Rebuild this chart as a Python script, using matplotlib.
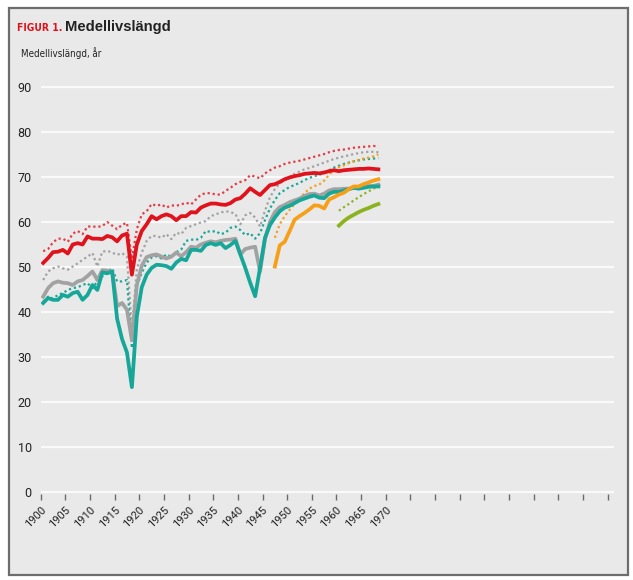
import matplotlib
matplotlib.use('Agg')
import matplotlib.pyplot as plt
from matplotlib import font_manager
from matplotlib.font_manager import FontProperties
from matplotlib.patches import Rectangle
import numpy as np

# --- data ---
years = np.arange(1900, 1969)

red = [50.9, 52.0, 53.3, 53.4, 53.8, 53.0, 55.0, 55.3, 55.0, 56.8,
       56.3, 56.3, 56.2, 56.9, 56.6, 55.7, 57.0, 57.4, 48.3, 55.0,
       58.0, 59.5, 61.3, 60.6, 61.3, 61.7, 61.3, 60.4, 61.3, 61.3,
       62.2, 62.1, 63.2, 63.7, 64.1, 64.1, 63.9, 63.8, 64.2, 65.0,
       65.3, 66.3, 67.5, 66.7, 66.0, 67.1, 68.2, 68.4, 68.9, 69.5,
       69.9, 70.2, 70.4, 70.7, 70.8, 70.9, 70.8, 71.0, 71.3, 71.5,
       71.3, 71.5, 71.6, 71.7, 71.8, 71.8, 71.9, 71.8, 71.7]
red_dot = [53.5, 54.0, 55.5, 56.3, 56.3, 55.6, 57.4, 58.0, 57.3, 59.0,
           59.0, 58.9, 59.1, 60.0, 59.2, 58.4, 59.4, 59.8, 51.8, 58.4,
           61.7, 62.4, 64.0, 63.6, 63.9, 63.2, 63.7, 63.6, 63.9, 64.3,
           63.9, 65.0, 66.1, 66.4, 66.4, 66.1, 66.1, 66.9, 67.6, 68.4,
           68.9, 69.3, 70.4, 70.1, 69.7, 70.8, 71.5, 72.1, 72.4, 72.9,
           73.2, 73.4, 73.6, 73.9, 74.2, 74.5, 74.8, 75.1, 75.5, 75.8,
           76.0, 76.1, 76.3, 76.5, 76.6, 76.7, 76.8, 76.9, 76.8]
grey = [43.4, 45.3, 46.4, 46.8, 46.5, 46.4, 46.0, 46.8, 47.1, 48.0,
        49.0, 47.1, 49.3, 49.2, 49.0, 41.3, 42.0, 40.5, 33.7, 46.0,
        50.3, 52.2, 52.6, 52.8, 52.3, 51.9, 52.3, 53.2, 52.4, 53.3,
        54.5, 54.3, 55.0, 55.4, 55.7, 55.5, 55.8, 56.0, 56.1, 56.3,
        52.8, 54.0, 54.3, 54.5, 49.0, 56.2, 60.0, 62.2, 63.3, 63.8,
        64.4, 64.8, 65.2, 65.8, 66.2, 66.3, 65.9, 66.3, 67.0, 67.3,
        67.3, 67.4, 67.4, 67.6, 67.8, 68.0, 68.0, 68.0, 68.3]
grey_dot = [47.1, 49.0, 49.7, 50.1, 49.7, 49.4, 50.1, 50.8, 51.6, 52.3,
            53.1, 50.1, 53.4, 53.6, 53.2, 52.7, 53.1, 52.3, 36.0, 49.5,
            53.2, 55.8, 56.9, 56.9, 56.5, 57.3, 56.2, 57.6, 57.3, 58.7,
            59.1, 59.5, 59.9, 60.2, 61.3, 61.7, 62.1, 62.4, 62.2, 61.8,
            59.5, 61.5, 62.0, 61.0, 59.0, 62.5, 65.5, 67.3, 68.6, 69.3,
            70.0, 70.7, 71.2, 71.7, 72.0, 72.4, 72.8, 73.2, 73.6, 74.0,
            74.3, 74.6, 74.8, 75.1, 75.3, 75.5, 75.6, 75.6, 75.5]
teal = [42.0, 43.1, 42.7, 42.7, 43.8, 43.4, 44.2, 44.5, 42.7, 43.8,
        46.0, 44.9, 48.8, 48.6, 49.0, 38.5, 34.0, 31.0, 23.3, 39.0,
        45.5, 48.3, 49.8, 50.5, 50.4, 50.2, 49.6, 51.0, 51.8, 51.5,
        53.8, 53.8, 53.6, 54.9, 55.3, 54.9, 55.3, 54.2, 54.9, 55.8,
        52.8, 49.8, 46.5, 43.5, 49.8, 56.5, 59.3, 61.0, 62.4, 63.2,
        63.6, 64.2, 64.8, 65.2, 65.6, 65.9, 65.4, 65.3, 66.3, 66.7,
        66.7, 67.0, 67.3, 67.6, 67.4, 67.6, 67.8, 67.9, 67.9]
teal_dot = [42.3, 43.4, 43.0, 43.8, 44.2, 44.9, 45.3, 45.5, 46.0, 46.4,
            45.3, 46.8, 47.9, 49.0, 49.7, 46.8, 46.8, 47.1, 32.0, 45.8,
            48.7, 51.0, 52.1, 52.4, 51.9, 52.8, 52.3, 53.3, 53.9, 55.8,
            56.1, 56.0, 56.5, 58.0, 57.8, 58.0, 57.3, 57.6, 58.7, 59.0,
            58.2, 57.1, 57.5, 56.3, 57.5, 60.4, 63.0, 64.9, 66.4, 67.1,
            67.8, 68.2, 68.7, 69.3, 69.8, 70.2, 70.5, 70.9, 71.5, 72.1,
            72.5, 72.9, 73.2, 73.5, 73.7, 73.9, 74.0, 74.1, 74.2]

orange_years = np.arange(1947, 1969)
orange = [50.1, 54.8, 55.6, 58.0, 60.5, 61.3, 62.0, 62.8, 63.7, 63.6,
          63.0, 65.0, 65.5, 66.1, 66.5, 67.3, 67.9, 67.9, 68.4, 68.8,
          69.2, 69.5]
orange_dot = [56.5, 59.5, 61.3, 62.7, 64.0, 65.2, 66.4, 67.4, 68.0, 68.3,
              69.2, 70.5, 71.6, 72.2, 72.6, 73.1, 73.5, 73.8, 74.1, 74.3,
              74.6, 75.0]

green_years = np.arange(1960, 1969)
green = [59.2, 60.2, 61.0, 61.6, 62.2, 62.7, 63.1, 63.6, 64.0]
green_dot = [62.5, 63.3, 64.0, 64.8, 65.5, 66.2, 66.8, 67.4, 68.0]

tick_years = list(range(1900, 2016, 5))
tick_labels = ['1900', '1905', '1910', '1915', '1920', '1925', '1930', '1935',
               '1940', '1945', '1950', '1955', '1960', '1965', '1970',
               '', '', '', '', '', '', '', '', '']
y_ticks = [0, 10, 20, 30, 40, 50, 60, 70, 80, 90]

# colours
RED = '#e0131c'
RED_DOT = '#e43c46'
GREY = '#a2a2a2'
TEAL = '#16a799'
ORANGE = '#f6a01a'
GREEN = '#8cb31e'
BG = '#e9e9e9'
TXT = '#222222'

plt.rcParams['font.family'] = ['Roboto', 'DejaVu Sans']


# --- pick condensed faces by file, if any are installed ---
def wnum(w):
    return w if isinstance(w, int) else font_manager.weight_dict.get(w, 400)


def squeeze(f):
    if f.stretch in ('semi-condensed', 'condensed'):
        return 0
    if f.stretch in ('extra-condensed', 'ultra-condensed') or 'Extra' in f.name:
        return 2
    return 1


cands = [f for f in font_manager.fontManager.ttflist
         if (f.stretch in ('semi-condensed', 'condensed', 'extra-condensed')
             or 'Condensed' in f.name or 'Narrow' in f.name)
         and f.style == 'normal'
         and not any(k in f.name for k in ('Serif', 'Mono', 'CJK'))]
# the red "FIGUR 1." is a tall, very narrow bold face
bold_c = sorted([f for f in cands if wnum(f.weight) >= 600],
                key=lambda f: (-squeeze(f), abs(wnum(f.weight) - 700)))
reg_c = sorted([f for f in cands if 350 <= wnum(f.weight) <= 500],
               key=lambda f: (squeeze(f), abs(wnum(f.weight) - 400)))
title_fp = (FontProperties(fname=bold_c[0].fname) if bold_c
            else FontProperties(family='Roboto', weight='bold'))
sub_fp = (FontProperties(fname=reg_c[0].fname) if reg_c
          else FontProperties(family='Roboto'))

W, H = 633, 580
fig = plt.figure(figsize=(W / 100, H / 100), dpi=100)
fig.patch.set_facecolor('white')

# grey frame around everything
fig.add_artist(Rectangle((9 / W, 1 - 575 / H), 619 / W, 567 / H,
                         transform=fig.transFigure, facecolor=BG,
                         edgecolor='#6d6d6d', lw=1.6, zorder=-1))

ax = fig.add_axes([40.7 / W, 1 - 493.8 / H, 573.3 / W, 408.6 / H])
ax.set_facecolor('none')

dot = (0, (1, 1.3))
ax.plot(years, grey_dot, color=GREY, lw=1.6, ls=dot)
ax.plot(years, teal_dot, color=TEAL, lw=1.6, ls=dot)
ax.plot(years, red_dot, color=RED_DOT, lw=1.6, ls=dot)
ax.plot(orange_years, orange_dot, color=ORANGE, lw=1.6, ls=dot)
ax.plot(green_years, green_dot, color=GREEN, lw=1.6, ls=dot)

ax.plot(years, grey, color=GREY, lw=2.7)
ax.plot(years, teal, color=TEAL, lw=2.7)
ax.plot(years, red, color=RED, lw=2.7)
ax.plot(orange_years, orange, color=ORANGE, lw=2.7)
ax.plot(green_years, green, color=GREEN, lw=2.7)

ax.set_xlim(1899.5, 2015.8)
ax.set_ylim(-0.4, 90.4)

# category style axis: ticks sit between the years
ax.set_xticks([t - 0.5 for t in tick_years])
ax.set_xticklabels(tick_labels, rotation=45, ha='right', va='top',
                   rotation_mode='anchor', fontsize=8.0, color=TXT)
ax.set_yticks(y_ticks)
ax.set_yticklabels([str(v) for v in y_ticks], fontsize=9, color=TXT)
ax.tick_params(axis='y', length=0, pad=6.5)
ax.tick_params(axis='x', length=4, width=1, color='#6a6a6a', pad=4)

ax.grid(axis='y', color='#fafafa', lw=1.6)
ax.set_axisbelow(True)
for s in ax.spines.values():
    s.set_visible(False)


def fit(t, width_px):
    # shrink a text until it is no wider than in the reference
    r = fig.canvas.get_renderer()
    w = t.get_window_extent(r).width
    if w > width_px:
        t.set_fontsize(t.get_fontsize() * width_px / w)


fig1 = fig.text(17 / W, 1 - 31 / H, 'FIGUR 1.', color=RED,
                fontproperties=title_fp, va='baseline')
fig1.set_fontsize(13.5)
fit(fig1, 45)
fig.text(65 / W, 1 - 31 / H, 'Medellivslängd', color=TXT, fontsize=10.6,
         fontweight='bold', va='baseline',
         family=['Liberation Sans', 'DejaVu Sans'])
sub = fig.text(20.7 / W, 1 - 56.7 / H, 'Medellivslängd, år', color=TXT,
               fontproperties=sub_fp, va='baseline')
sub.set_fontsize(8.5)
fit(sub, 81)

fig.savefig('out.png', dpi=100)
